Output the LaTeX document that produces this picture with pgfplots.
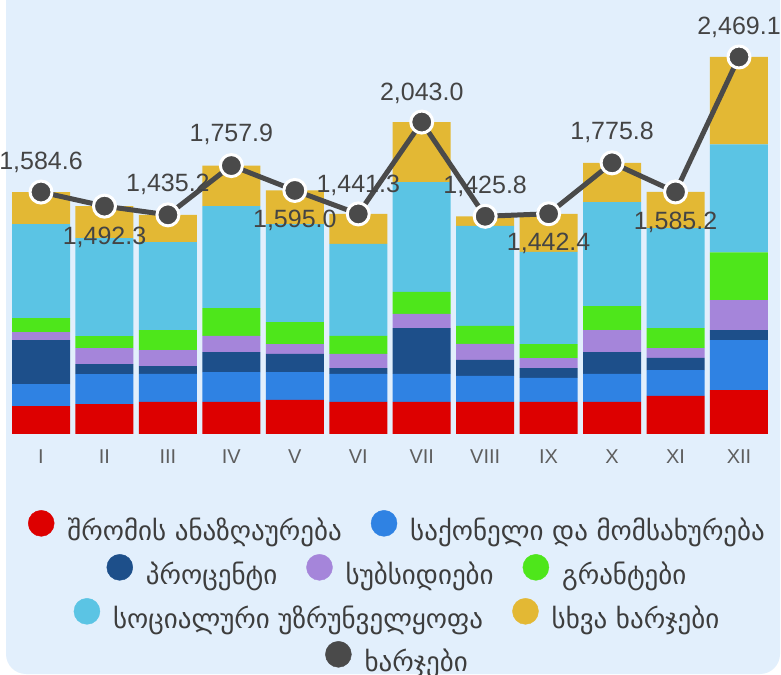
\documentclass[border=0pt]{standalone}
\usepackage{fontspec}
\setmainfont{Liberation Sans}
\newfontfamily\geo{DejaVu Sans}
\usepackage{pgfplots}
\usepackage{pgfplotstable}
\pgfplotsset{compat=1.18}

\definecolor{cred}{HTML}{DD0000}
\definecolor{cblue}{HTML}{2F82E3}
\definecolor{cdark}{HTML}{1D4F8A}
\definecolor{cpurple}{HTML}{A585DA}
\definecolor{cgreen}{HTML}{4EE61B}
\definecolor{clight}{HTML}{5BC4E4}
\definecolor{cyellow}{HTML}{E3B834}
\definecolor{cline}{HTML}{4A4A4A}
\definecolor{bgblue}{HTML}{E2EFFC}
\definecolor{ticktext}{HTML}{5E5E5E}
\definecolor{labtext}{HTML}{444444}
\definecolor{legtext}{HTML}{3D3D3D}

\pgfplotstableread{
x  red  blue dark purple green light yellow total  off
0  183  144  288  52  92  616  209.6 1584.6  30
1  196  196  65   105 79  642  209.3 1492.3 -31
2  210  183  52   105 131 576  178.2 1435.2  30
3  210  196  131  105 183 668  264.9 1757.9  31
4  223  183  118  65  144 642  220.0 1595.0 -30
5  210  183  39   92  118 603  196.3 1441.3  29
6  210  183  301  92  144 720  393.0 2043.0  29
7  210  170  105  105 118 655  62.8  1425.8  30
8  210  157  65   65  92  603  250.4 1442.4 -30
9  210  183  144  144 157 681  256.8 1775.8  30
10 249  170  79   65  131 655  236.2 1585.2 -30
11 288  327  65   196 314 707  572.1 2469.1  30
}\data

\pgfplotsset{
  base/.style={scale only axis, width=761.4bp, height=397bp,
    xmin=-0.5, xmax=11.5, ymin=0, ymax=2600,
    at={(9.3bp,241bp)}, anchor=south west,
    axis line style={draw=none}, tick style={draw=none},
    ytick=\empty, clip=false},
  legrow/.style={hide axis, scale only axis, width=10bp, height=10bp,
    xmin=0, xmax=1, ymin=0, ymax=1, anchor=center,
    legend columns=-1,
    legend style={at={(0.5,0.5)}, anchor=center, draw=none, fill=none,
      font=\geo\fontsize{27bp}{31bp}\selectfont, text=legtext,
      nodes={inner sep=0pt},
      /tikz/every odd column/.append style={column sep=13bp},
      /tikz/every even column/.append style={column sep=29bp}},
    legend image code/.code={\fill[##1] (13bp,6.5bp) circle (13bp);}},
}

\begin{document}
\begin{tikzpicture}
\useasboundingbox (0,0) rectangle (781bp,675bp);
\fill[white] (0,0) rectangle (781bp,675bp);
\begin{scope}
\clip (0,0) rectangle (781bp,675bp);
\fill[bgblue, rounded corners=20bp] (6bp,1bp) rectangle (780bp,720bp);
\end{scope}

\begin{axis}[base, ybar stacked, bar width=58bp,
  xtick={0,...,11}, xticklabels={I,II,III,IV,V,VI,VII,VIII,IX,X,XI,XII},
  xticklabel style={anchor=north, inner sep=0pt, yshift=-16bp,
    font=\fontsize{20bp}{24bp}\selectfont, text=ticktext}]
\addplot[fill=cred, draw=none] table[x=x,y=red] {\data};
\addplot[fill=cblue, draw=none] table[x=x,y=blue] {\data};
\addplot[fill=cdark, draw=none] table[x=x,y=dark] {\data};
\addplot[fill=cpurple, draw=none] table[x=x,y=purple] {\data};
\addplot[fill=cgreen, draw=none] table[x=x,y=green] {\data};
\addplot[fill=clight, draw=none] table[x=x,y=light] {\data};
\addplot[fill=cyellow, draw=none] table[x=x,y=yellow] {\data};
\end{axis}

\begin{axis}[base, xtick=\empty]
\addplot[cline, line width=5bp, line join=round, mark=*, mark size=11bp,
  mark options={fill=cline, draw=white, line width=3bp},
  point meta=y,
  visualization depends on={\thisrow{off}\as\off},
  nodes near coords={\pgfmathprintnumber[fixed, fixed zerofill, precision=1, 1000 sep={,}, assume math mode=true]{\pgfplotspointmeta}},
  every node near coord/.append style={anchor=center, yshift=\off bp,
    font=\fontsize{25bp}{29bp}\selectfont, text=labtext}]
  table[x=x,y=total] {\data};
\end{axis}

\begin{axis}[legrow, at={(396.5bp,149bp)}]
\addlegendimage{cred}\addlegendentry{შრომის ანაზღაურება}
\addlegendimage{cblue}\addlegendentry{საქონელი და მომსახურება}
\end{axis}
\begin{axis}[legrow, at={(396.5bp,105bp)}]
\addlegendimage{cdark}\addlegendentry{პროცენტი}
\addlegendimage{cpurple}\addlegendentry{სუბსიდიები}
\addlegendimage{cgreen}\addlegendentry{გრანტები}
\end{axis}
\begin{axis}[legrow, at={(396.5bp,61bp)}]
\addlegendimage{clight}\addlegendentry{სოციალური უზრუნველყოფა}
\addlegendimage{cyellow}\addlegendentry{სხვა ხარჯები}
\end{axis}
\begin{axis}[legrow, at={(396.5bp,18bp)}]
\addlegendimage{cline}\addlegendentry{ხარჯები}
\end{axis}
\end{tikzpicture}
\end{document}
